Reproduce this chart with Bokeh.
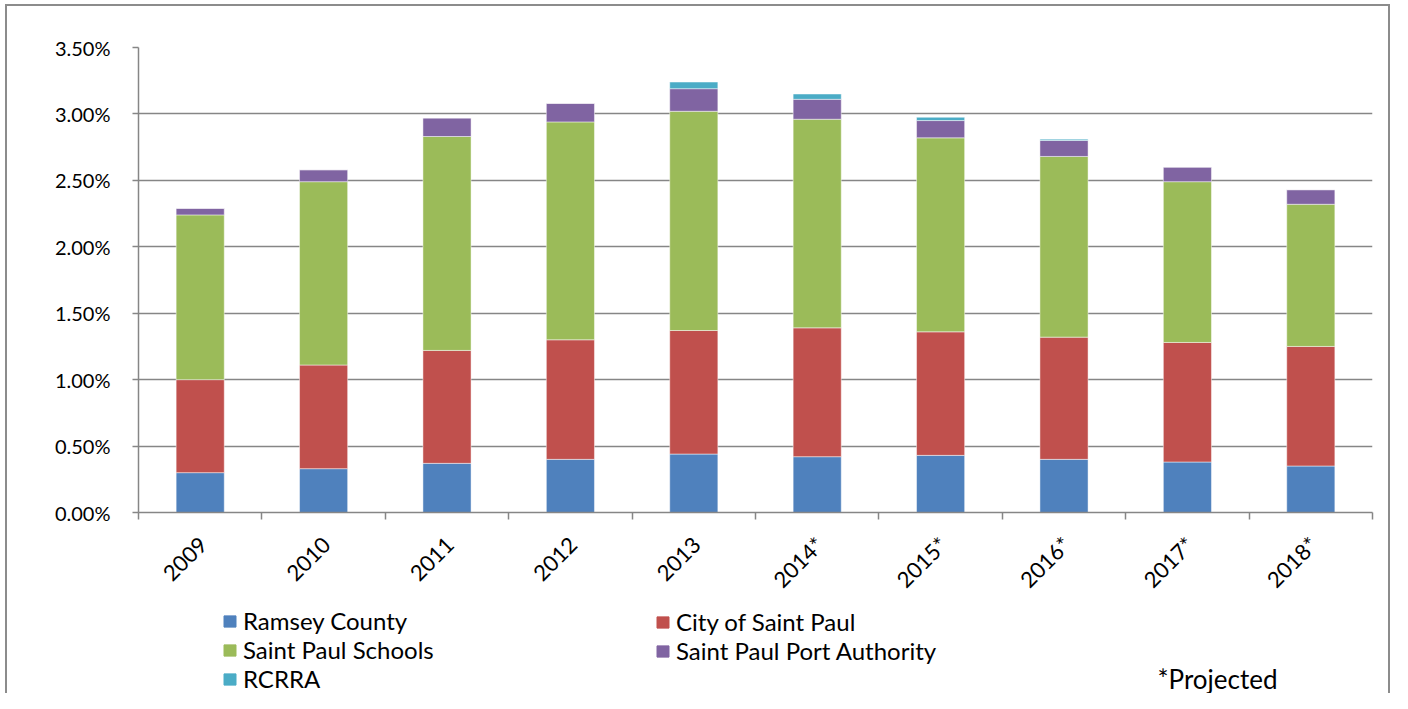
from math import pi
from bokeh.plotting import figure
from bokeh.layouts import column
from bokeh.models import (Range1d, FixedTicker, NumeralTickFormatter, Legend, LegendItem,
                          Label, ColumnDataSource, InlineStyleSheet)
from bokeh.embed import file_html
from bokeh.resources import INLINE

years = ["2009", "2010", "2011", "2012", "2013", "2014*", "2015*", "2016*", "2017*", "2018*"]
series = ["Ramsey County", "City of Saint Paul", "Saint Paul Schools", "Saint Paul Port Authority", "RCRRA"]
colors = ["#4F81BD", "#C0504D", "#9BBB59", "#8064A2", "#4BACC6"]

# values in percent
ramsey = [0.30, 0.33, 0.37, 0.40, 0.44, 0.42, 0.43, 0.40, 0.38, 0.35]
city = [0.70, 0.78, 0.85, 0.90, 0.93, 0.97, 0.93, 0.92, 0.90, 0.90]
schools = [1.24, 1.38, 1.61, 1.64, 1.65, 1.57, 1.46, 1.36, 1.21, 1.07]
port = [0.05, 0.09, 0.14, 0.14, 0.17, 0.15, 0.13, 0.12, 0.11, 0.11]
rcrra = [0.00, 0.00, 0.00, 0.00, 0.05, 0.04, 0.025, 0.01, 0.00, 0.00]
note = "*Projected"

FONT = "Lato"
GRAY = "#868686"
W = 1392
H1 = 605
H2 = 88
LEFT = 138

xs = [i + 0.5 for i in range(len(years))]
keys = ["s0", "s1", "s2", "s3", "s4"]
data = {"x": xs}
for k, arr in zip(keys, [ramsey, city, schools, port, rcrra]):
    data[k] = [v / 100.0 for v in arr]
src = ColumnDataSource(data)

p = figure(width=W, height=H1, output_backend="svg", toolbar_location=None,
           x_range=Range1d(0, len(years)), y_range=Range1d(0, 0.035),
           min_border_left=LEFT, min_border_right=20, min_border_top=47, min_border_bottom=91)
p.outline_line_color = None
p.background_fill_color = "white"
p.border_fill_color = "white"

rs = p.vbar_stack(keys, x="x", width=0.39, source=src, color=colors,
                  line_color="white", line_alpha=0.6, line_width=0.8)

# y axis
yax = p.yaxis[0]
yax.ticker = FixedTicker(ticks=[i * 0.005 for i in range(8)])
yax.formatter = NumeralTickFormatter(format="0.00%")
yax.axis_line_color = GRAY
yax.axis_line_width = 1.5
yax.major_tick_line_color = GRAY
yax.major_tick_line_width = 1.5
yax.major_tick_out = 6
yax.major_tick_in = 0
yax.minor_tick_line_color = None
yax.major_label_text_font = FONT
yax.major_label_text_font_size = "20px"
yax.major_label_text_color = "#000000"
yax.major_label_standoff = 22

# x axis: labels at bar centres (slightly offset), ticks at category boundaries
lab_x = [x + 0.02 for x in xs]
xax = p.xaxis[0]
xax.ticker = FixedTicker(ticks=lab_x, minor_ticks=list(range(len(years) + 1)))
xax.major_label_overrides = {x: y for x, y in zip(lab_x, years)}
xax.major_tick_line_color = None
xax.minor_tick_line_color = GRAY
xax.minor_tick_line_width = 1.5
xax.minor_tick_out = 7
xax.minor_tick_in = 0
xax.axis_line_color = GRAY
xax.axis_line_width = 1.5
xax.major_label_orientation = pi / 4
xax.major_label_text_font = FONT
xax.major_label_text_font_size = "22px"
xax.major_label_text_color = "#000000"
xax.major_label_standoff = 21

p.xgrid.grid_line_color = None
p.ygrid.ticker = FixedTicker(ticks=[i * 0.005 for i in range(1, 8)])
p.ygrid.grid_line_color = GRAY
p.ygrid.grid_line_width = 1.5

# legend strip (its frame is aligned with the chart frame by the column layout)
q = figure(width=W, height=H2, output_backend="svg", toolbar_location=None,
           x_range=Range1d(0, 1), y_range=Range1d(0, 1),
           x_axis_location=None, y_axis_location=None,
           min_border=0)
q.outline_line_color = None
q.grid.visible = False
q.background_fill_color = "white"
q.border_fill_color = "white"

# zero-height keys outside the visible range, only used for legend swatches
dummies = [q.vbar(x=[-10], top=[0], bottom=[0], width=0.1, color=c) for c in colors]

def make_legend(idx, loc):
    lg = Legend(items=[LegendItem(label=series[i], renderers=[dummies[i]]) for i in idx],
                location=loc, orientation="vertical",
                border_line_color=None, background_fill_alpha=0,
                padding=0, margin=0, spacing=0,
                glyph_width=15, glyph_height=14, label_standoff=6,
                label_height=28,
                label_text_font=FONT, label_text_font_size="24px",
                label_text_color="#000000")
    q.add_layout(lg, "center")

make_legend([0, 2, 4], (222 - LEFT, 0))
make_legend([1, 3], (655 - LEFT, 28))

q.add_layout(Label(x=1157 - LEFT, y=15, x_units="screen", y_units="screen", text=note,
                   text_font=FONT, text_font_size="26px", text_color="#000000",
                   text_baseline="alphabetic"))

css = InlineStyleSheet(css=""":host::after { content: ''; position: absolute; left: 5px; top: 4px;
 width: 1385px; height: 689px; border-left: 2px solid #8c8c8c; border-top: 2px solid #8c8c8c;
 border-right: 2px solid #8c8c8c; box-sizing: border-box; pointer-events: none; z-index: 100; }""")

layout = column(p, q, spacing=0, stylesheets=[css])

open("out.html", "w").write(file_html(layout, INLINE))
